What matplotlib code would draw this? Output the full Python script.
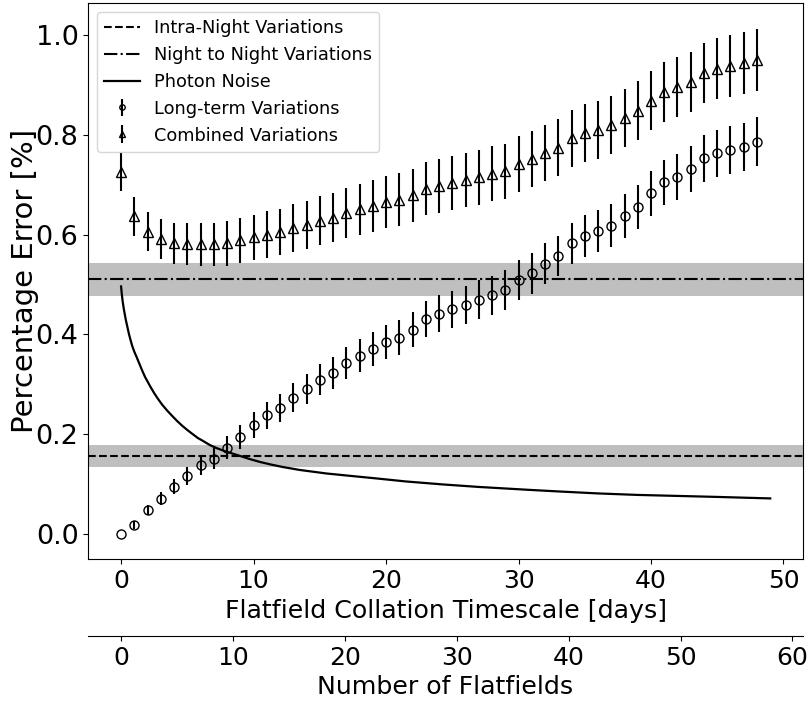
import numpy as np
import matplotlib
matplotlib.use('Agg')
import matplotlib.pyplot as plt

# values
days = list(range(49))
longterm = [0.0, 0.017, 0.048, 0.070, 0.094, 0.116, 0.137, 0.151, 0.173, 0.195,
            0.218, 0.238, 0.252, 0.273, 0.290, 0.309, 0.322, 0.343, 0.357, 0.371,
            0.385, 0.393, 0.409, 0.430, 0.441, 0.450, 0.459, 0.469, 0.478, 0.488,
            0.508, 0.522, 0.541, 0.557, 0.582, 0.597, 0.607, 0.618, 0.637, 0.656,
            0.683, 0.705, 0.715, 0.731, 0.753, 0.763, 0.769, 0.776, 0.786]
longterm_err = [0.0, 0.008, 0.010, 0.013, 0.015, 0.018, 0.020, 0.022, 0.023, 0.024,
                0.026, 0.027, 0.028, 0.029, 0.030, 0.031, 0.032, 0.032, 0.033, 0.034,
                0.034, 0.035, 0.035, 0.036, 0.037, 0.037, 0.038, 0.039, 0.039, 0.040,
                0.040, 0.041, 0.041, 0.041, 0.042, 0.042, 0.043, 0.043, 0.044, 0.044,
                0.045, 0.045, 0.046, 0.046, 0.047, 0.047, 0.048, 0.048, 0.049]
combined = [0.726, 0.637, 0.606, 0.591, 0.582, 0.581, 0.580, 0.580, 0.582, 0.588,
            0.594, 0.600, 0.605, 0.613, 0.619, 0.628, 0.634, 0.643, 0.651, 0.658,
            0.665, 0.670, 0.679, 0.692, 0.698, 0.703, 0.709, 0.715, 0.722, 0.727,
            0.742, 0.751, 0.764, 0.774, 0.793, 0.804, 0.810, 0.819, 0.834, 0.848,
            0.868, 0.886, 0.895, 0.906, 0.924, 0.932, 0.937, 0.943, 0.949]
combined_err = [0.038, 0.039, 0.040, 0.041, 0.042, 0.042, 0.043, 0.044, 0.045, 0.046,
                0.046, 0.047, 0.047, 0.048, 0.049, 0.050, 0.050, 0.051, 0.051, 0.052,
                0.052, 0.053, 0.053, 0.053, 0.054, 0.054, 0.054, 0.055, 0.055, 0.055,
                0.056, 0.056, 0.056, 0.057, 0.057, 0.058, 0.058, 0.058, 0.058, 0.059,
                0.059, 0.060, 0.060, 0.060, 0.060, 0.061, 0.062, 0.062, 0.062]

photon_x = [0.0, 0.05, 0.12, 0.2, 0.35, 0.45, 0.6, 0.7, 0.85, 1.0, 1.18, 1.35,
            1.6, 1.8, 2.19, 2.5, 2.8, 3.1, 3.45, 3.8, 4.2, 4.6, 4.96, 5.3, 5.8,
            6.2, 6.7, 7.2, 7.8, 8.4, 9.0, 9.7, 10.5, 11.3, 12.2, 13.5, 15.5,
            17.0, 19.3, 21.5, 24.3, 27.0, 30.9, 33.0, 36.0, 39.0, 42.0, 45.0, 49.0]
photon_y = [0.496, 0.482, 0.466, 0.452, 0.430, 0.418, 0.400, 0.390, 0.376, 0.365,
            0.354, 0.343, 0.327, 0.315, 0.296, 0.282, 0.270, 0.259, 0.248, 0.238,
            0.227, 0.217, 0.209, 0.202, 0.192, 0.186, 0.178, 0.172, 0.166, 0.161,
            0.156, 0.150, 0.144, 0.139, 0.134, 0.128, 0.121, 0.117, 0.111, 0.105,
            0.099, 0.094, 0.088, 0.085, 0.081, 0.078, 0.076, 0.074, 0.071]

intra_night, intra_night_err = 0.156, 0.022
night_night, night_night_err = 0.510, 0.033

flats_per_day = 1.184

fig = plt.figure(figsize=(8.09, 7.02), dpi=100)
ax = fig.add_axes([0.1092, 0.2033, 0.883, 0.7924])

ax.axhspan(intra_night - intra_night_err, intra_night + intra_night_err,
           color='0.75', lw=0, zorder=0)
ax.axhspan(night_night - night_night_err, night_night + night_night_err,
           color='0.75', lw=0, zorder=0)
ax.axhline(intra_night, color='k', ls='--', lw=1.5, label='Intra-Night Variations')
ax.axhline(night_night, color='k', ls='-.', lw=1.5, label='Night to Night Variations')
ax.plot(photon_x, photon_y, color='k', lw=1.6, label='Photon Noise')

ax.errorbar(days, longterm, yerr=longterm_err, fmt='o', mfc='none', mec='k',
            ms=6.5, mew=1.0, ecolor='k', elinewidth=1.5, label='Long-term Variations')
ax.errorbar(days, combined, yerr=combined_err, fmt='^', mfc='none', mec='k',
            ms=6.5, mew=1.0, ecolor='k', elinewidth=1.5, label='Combined Variations')

ax.set_xlim(-2.47, 51.45)
ax.set_ylim(-0.051, 1.064)
ax.set_xticks(np.arange(0, 51, 10))
ax.set_yticks(np.arange(0, 1.01, 0.2))
ax.tick_params(axis='y', labelsize=19.5)
ax.tick_params(axis='x', labelsize=18)
ax.set_xlabel('Flatfield Collation Timescale [days]', fontsize=18.2)
ax.set_ylabel('Percentage Error [%]', fontsize=21)
ax.yaxis.set_label_coords(-0.069, 0.5)

leg = ax.legend(loc='upper left', fontsize=12.8, markerscale=0.6)

sec = ax.secondary_xaxis(-0.138, functions=(lambda d: d * flats_per_day,
                                              lambda n: n / flats_per_day))
sec.set_xticks(np.arange(0, 61, 10))
sec.tick_params(labelsize=18)
sec.set_xlabel('Number of Flatfields', fontsize=18.2)

fig.savefig('out.png', dpi=100)
